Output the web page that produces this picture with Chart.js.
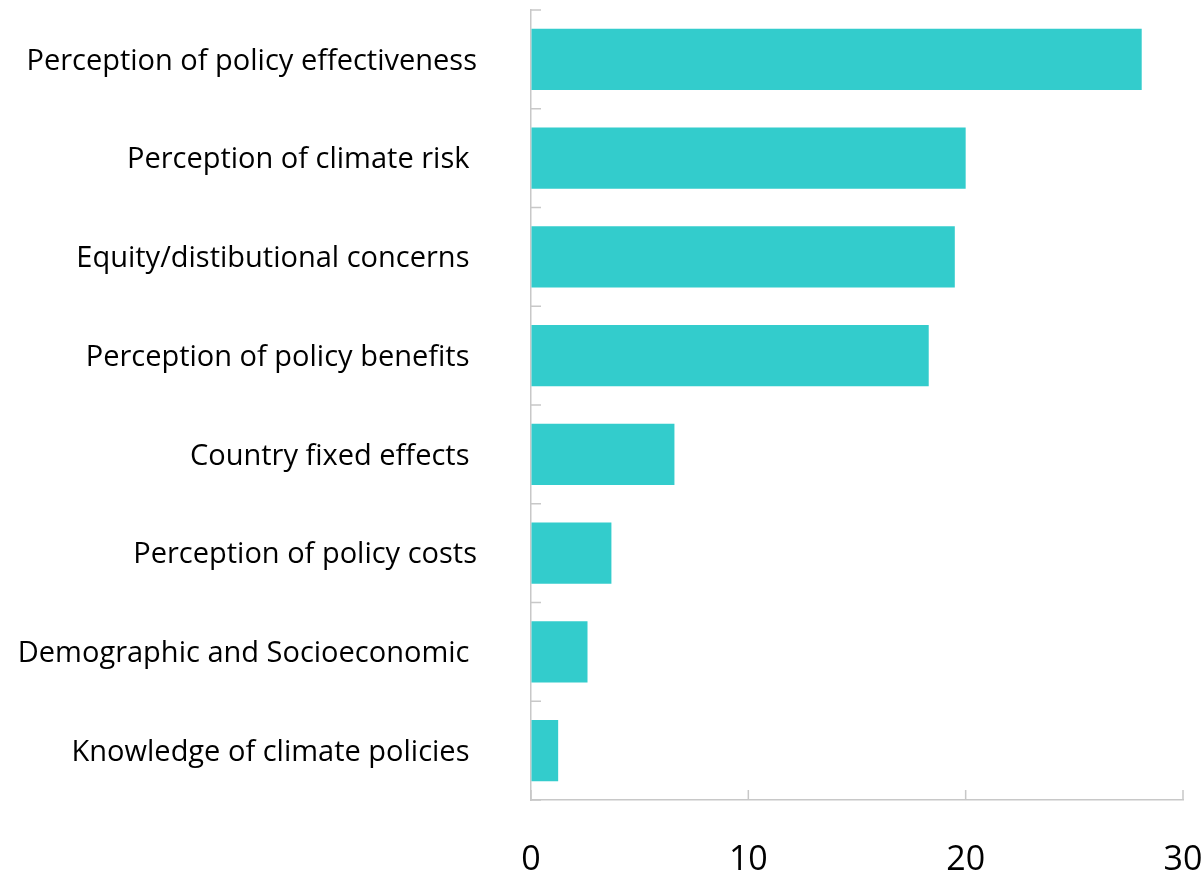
<!DOCTYPE html>
<html lang="en">
<head>
    <meta charset="UTF-8">
    <title>Drivers of climate policy support</title>
    <script src="https://cdn.jsdelivr.net/npm/chart.js"></script>
    <style>
        body { margin: 0; background: #fff; }
        #wrap { width: 1204px; height: 875px; }
    </style>
</head>
<body>
    <div id="wrap"><canvas id="myChart" width="1204" height="875"></canvas></div>
    <script>
        // categories (trailing spaces kept as in the source labels)
        const categories = [
            'Perception of policy effectiveness',
            'Perception of climate risk ',
            'Equity/distibutional concerns ',
            'Perception of policy benefits ',
            'Country fixed effects ',
            'Perception of policy costs',
            'Demographic and Socioeconomic ',
            'Knowledge of climate policies '
        ];
        const values = [28.1, 20.0, 19.5, 18.3, 6.6, 3.7, 2.6, 1.25];
        const xTicks = [0, 10, 20, 30];

        const axisColor = '#c8c8c8';

        // short inward tick marks, like the original
        const innerTicks = {
            id: 'innerTicks',
            afterDraw(chart) {
                const ctx = chart.ctx;
                const x = chart.scales.x, y = chart.scales.y;
                ctx.save();
                ctx.strokeStyle = axisColor;
                ctx.lineWidth = 1.5;
                ctx.beginPath();
                for (let i = 0; i <= categories.length; i++) {
                    const py = y.getPixelForValue(i - 0.5);
                    ctx.moveTo(x.left, py);
                    ctx.lineTo(x.left + 10, py);
                }
                xTicks.forEach(v => {
                    const px = x.getPixelForValue(v);
                    ctx.moveTo(px, y.bottom);
                    ctx.lineTo(px, y.bottom - 10);
                });
                ctx.stroke();
                ctx.restore();
            }
        };

        new Chart(document.getElementById('myChart'), {
            type: 'bar',
            data: {
                labels: categories,
                datasets: [{
                    data: values,
                    backgroundColor: '#33cccc',
                    categoryPercentage: 1,
                    barPercentage: 0.62
                }]
            },
            options: {
                indexAxis: 'y',
                responsive: false,
                animation: false,
                layout: { padding: { top: 10, right: 21, left: 0, bottom: 0 } },
                plugins: { legend: { display: false }, tooltip: { enabled: false } },
                scales: {
                    x: {
                        min: 0,
                        max: 30,
                        afterBuildTicks: s => { s.ticks = xTicks.map(v => ({ value: v })); },
                        afterFit: s => { s.height = 75; },
                        grid: { display: true, drawOnChartArea: false, drawTicks: true, tickLength: 40, tickColor: 'transparent' },
                        border: { display: true, color: axisColor, width: 1.5 },
                        ticks: {
                            color: '#000',
                            padding: 0,
                            maxRotation: 0,
                            font: { family: 'Open Sans', size: 34 }
                        }
                    },
                    y: {
                        afterFit: s => { s.width = 531; },
                        grid: { display: true, drawOnChartArea: false, drawTicks: true, tickLength: 54, tickColor: 'transparent' },
                        border: { display: true, color: axisColor, width: 1.5 },
                        ticks: {
                            color: '#000',
                            padding: 0,
                            labelOffset: 2,
                            crossAlign: 'near',
                            font: { family: 'Open Sans', size: 29, lineHeight: 0.6 }
                        }
                    }
                }
            },
            plugins: [innerTicks]
        });
    </script>
</body>
</html>
